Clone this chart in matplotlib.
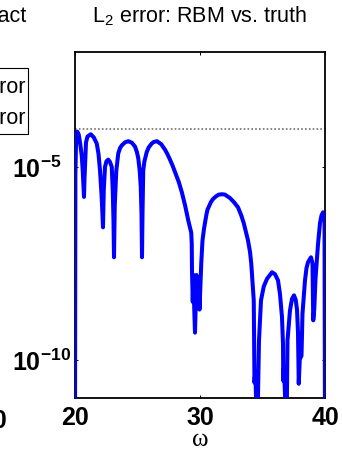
import numpy as np
import matplotlib
matplotlib.use("Agg")
import matplotlib.pyplot as plt
from matplotlib.patches import Rectangle
import matplotlib.transforms as mtransforms

plt.rcParams['font.family'] = ['Liberation Sans', 'DejaVu Sans']
plt.rcParams['mathtext.fontset'] = 'custom'
plt.rcParams['mathtext.rm'] = 'Liberation Sans'
plt.rcParams['mathtext.bf'] = 'Liberation Sans:bold'
plt.rcParams['mathtext.it'] = 'Liberation Sans:italic'

# ---- data ----
omega = [20.00, 20.03, 20.08, 20.18, 20.30, 20.42, 20.54, 20.62, 20.68, 20.72,
         20.76, 20.82, 20.88, 21.00, 21.26, 21.50, 21.74, 21.88, 22.00, 22.12,
         22.18, 22.24, 22.30, 22.40, 22.52, 22.66, 22.80, 22.94, 23.02, 23.08,
         23.12, 23.18, 23.30, 23.46, 23.60, 23.74, 24.00, 24.26, 24.55, 24.80,
         24.95, 25.06, 25.18, 25.26, 25.32, 25.36, 25.40, 25.46, 25.55, 25.74,
         25.90, 26.14, 26.30, 26.56, 26.90, 27.20, 27.40, 27.60, 27.80, 28.00,
         28.30, 28.54, 28.80, 29.06, 29.30, 29.34, 29.36, 29.42, 29.48, 29.54,
         29.60, 29.66, 29.72, 29.80, 29.88, 29.96, 30.04, 30.10, 30.20, 30.32,
         30.50, 30.60, 30.88, 31.05, 31.30, 31.50, 31.76, 32.00, 32.40, 32.70,
         33.04, 33.30, 33.50, 33.84, 34.00, 34.10, 34.30, 34.36, 34.42, 34.58,
         34.72, 34.88, 35.10, 35.36, 35.76, 36.00, 36.24, 36.40, 36.56, 36.64,
         36.66, 36.72, 36.92, 37.00, 37.20, 37.36, 37.52, 37.66, 37.76, 37.84,
         37.90, 37.98, 38.12, 38.20, 38.40, 38.52, 38.64, 38.88, 39.00, 39.06,
         39.14, 39.24, 39.44, 39.60, 39.72, 39.84, 39.96, 40.00]
log10_err = [-12.0, -5.2, -4.4, -4.07, -4.15, -4.4, -4.7, -5.1, -5.5, -5.77,
             -5.3, -4.8, -4.35, -4.2, -4.14, -4.22, -4.38, -4.65, -5.08, -5.7,
             -6.1, -6.56, -5.6, -4.99, -4.84, -4.80, -4.86, -4.99, -5.6, -6.4,
             -7.34, -6.0, -5.1, -4.64, -4.50, -4.43, -4.35, -4.32, -4.36, -4.46,
             -4.60, -4.76, -5.1, -5.51, -6.2, -7.34, -6.2, -5.08, -4.85, -4.60,
             -4.48, -4.38, -4.34, -4.32, -4.40, -4.54, -4.66, -4.80, -4.95, -5.12,
             -5.38, -5.64, -5.98, -6.38, -6.7, -7.0, -7.7, -8.5, -7.8, -8.7,
             -9.3, -8.6, -7.8, -8.6, -7.9, -8.7, -8.0, -7.5, -6.9, -6.6,
             -6.25, -6.10, -5.90, -5.82, -5.75, -5.71, -5.70, -5.71, -5.80, -5.90,
             -6.04, -6.25, -6.45, -6.90, -7.20, -7.5, -8.46, -10.6, -10.3, -12.0,
             -9.5, -8.46, -8.10, -7.90, -7.73, -7.78, -7.94, -8.30, -8.9, -9.6,
             -10.55, -10.2, -12.0, -9.5, -8.72, -8.42, -8.33, -8.45, -8.7, -9.3,
             -10.63, -10.0, -9.9, -8.8, -7.94, -7.62, -7.47, -7.34, -7.5, -8.98,
             -8.7, -7.9, -7.0, -6.45, -6.25, -6.17, -6.3, -12.0]
tol_level = 1e-4
x_ticks = [20, 30, 40]
y_ticks = [1e-10, 1e-5]
y_tick_labels = [r'$\mathbf{10^{-10}}$', r'$\mathbf{10^{-5}}$']
title_text = r'L$_2$ error: RBM vs. truth'
xlabel_text = 'ω'

W, H = 342, 453
fig = plt.figure(figsize=(W / 100, H / 100), dpi=100)
ax = fig.add_axes([75 / W, 1 - 398 / H, 250 / W, 346 / H])

err = 10.0 ** np.array(log10_err)
ax.plot(omega, err, color='#0000ff', lw=2.9, zorder=3, solid_joinstyle='round')
ax.axhline(tol_level, color='#707070', lw=1.2, ls=(0, (1, 1.3)), zorder=2)

ax.set_yscale('log')
ax.set_xlim(20, 40)
ax.set_ylim(1e-11, 1e-2)
ax.set_xticks(x_ticks)
ax.set_xticklabels([str(t) for t in x_ticks], fontsize=18, fontweight='bold')
ax.set_yticks(y_ticks)
ax.set_yticklabels([])
ax.yaxis.set_minor_locator(matplotlib.ticker.NullLocator())
ax.tick_params(axis='both', which='major', direction='in', length=2.5, width=0.7,
               top=True, right=True, pad=6)
for s in ax.spines.values():
    s.set_linewidth(1.3)
    s.set_color('black')

ytr = ax.get_yaxis_transform() + mtransforms.ScaledTranslation(0, -11 / 100, fig.dpi_scale_trans)
for v, lab in zip(y_ticks, y_tick_labels):
    ax.text((12 - 75) / 250, v, lab, transform=ytr, ha='left', va='baseline',
            fontsize=18)

fig.text(200 / W, 1 - 22 / H, title_text, ha='center', va='baseline', fontsize=15.5)
fig.text(200 / W, 1 - 446 / H, xlabel_text, ha='center', va='baseline',
         fontsize=18, family=['Liberation Serif', 'DejaVu Serif'])

# fragments of the neighbouring panel on the left
fig.text(26.5 / W, 1 - 22 / H, 'exact', ha='right', va='baseline', fontsize=15.5)
fig.patches.append(Rectangle((-60 / W, 1 - 134 / H), 88 / W, 66 / H,
                             transform=fig.transFigure, fill=False, lw=0.8,
                             edgecolor='black'))
fig.text(26 / W, 1 - 93 / H, 'error', ha='right', va='baseline', fontsize=15.5)
fig.text(26 / W, 1 - 124 / H, 'error', ha='right', va='baseline', fontsize=15.5)
fig.text(7.5 / W, 1 - 428 / H, '40', ha='right', va='baseline', fontsize=18,
         fontweight='bold')

fig.savefig('out.png', dpi=100)
